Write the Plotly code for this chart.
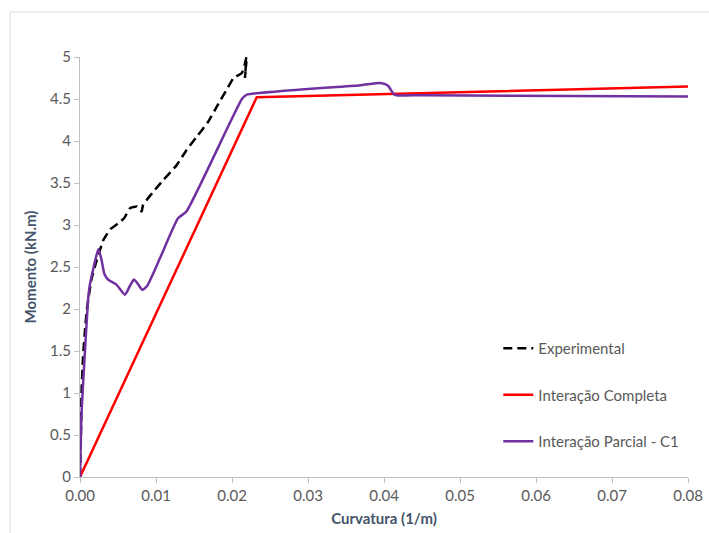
import plotly.graph_objects as go

exp_x = [0.0, 0.00013, 0.0002, 0.0004, 0.00066, 0.0009, 0.0015, 0.0022, 0.00307, 0.004, 0.00504,
         0.0058, 0.00658, 0.0075, 0.0081, 0.0083, 0.0095, 0.011, 0.0127, 0.014, 0.01535, 0.0168,
         0.018, 0.0193, 0.0202, 0.0213, 0.0217, 0.0219, 0.0217, 0.0219]
exp_y = [0.0, 0.52, 1.0, 1.43, 1.75, 1.99, 2.35, 2.58, 2.82, 2.95, 3.02,
         3.08, 3.2, 3.22, 3.16, 3.24, 3.38, 3.54, 3.71, 3.89, 4.05, 4.22,
         4.41, 4.61, 4.75, 4.81, 4.92, 5.0, 4.75, 4.95]

comp_x = [0.0, 0.02325, 0.08]
comp_y = [0.0, 4.52, 4.65]

parc_x = [0.0, 0.0002, 0.00066, 0.0011, 0.0013, 0.0018, 0.0024, 0.0028, 0.0032, 0.0037, 0.0048,
          0.0059, 0.0066, 0.0071, 0.0076, 0.0082, 0.0088, 0.0105, 0.0129, 0.014, 0.0213, 0.0219,
          0.037, 0.0395, 0.0405, 0.0414, 0.045, 0.08]
parc_y = [0.0, 0.76, 1.51, 2.15, 2.29, 2.5, 2.71, 2.6, 2.42, 2.35, 2.29,
          2.17, 2.28, 2.35, 2.3, 2.23, 2.27, 2.6, 3.08, 3.16, 4.5, 4.55,
          4.665, 4.69, 4.66, 4.55, 4.545, 4.53]

x_ticks = [0.0, 0.01, 0.02, 0.03, 0.04, 0.05, 0.06, 0.07, 0.08]
y_ticks = [0, 0.5, 1, 1.5, 2, 2.5, 3, 3.5, 4, 4.5, 5]

fig = go.Figure()
fig.add_trace(go.Scatter(x=exp_x, y=exp_y, mode="lines", name="Experimental", legendgroup="a",
                         line=dict(color="black", width=2.5, dash="9px,5px", shape="spline", smoothing=0.4)))
fig.add_trace(go.Scatter(x=comp_x, y=comp_y, mode="lines", name="Interação Completa", legendgroup="b",
                         line=dict(color="#ff0000", width=2.5)))
fig.add_trace(go.Scatter(x=parc_x, y=parc_y, mode="lines", name="Interação Parcial - C1", legendgroup="c",
                         line=dict(color="#7030a0", width=2.5, shape="spline", smoothing=0.5)))

font = "Lato, Open Sans, sans-serif"
fig.update_layout(
    width=709, height=533,
    margin=dict(l=80, r=21, t=57, b=56),
    plot_bgcolor="white", paper_bgcolor="white",
    font=dict(family=font, size=15, color="#595959"),
    showlegend=True,
    legend=dict(x=0.688, y=0.345, xanchor="left", yanchor="top", traceorder="grouped",
                bgcolor="rgba(0,0,0,0)", font=dict(size=15, color="#595959"),
                tracegroupgap=24),
    xaxis=dict(range=[0, 0.08], tickvals=x_ticks, tickformat=".2f", automargin=False,
               showgrid=False, zeroline=False, showline=True, linecolor="#bfbfbf", linewidth=1,
               ticks="outside", ticklen=5, tickcolor="#bfbfbf",
               title=dict(text="<b>Curvatura (1/m)</b>", font=dict(size=15, color="#44546a"), standoff=10)),
    yaxis=dict(range=[0, 5], tickvals=y_ticks, ticktext=[str(v) for v in y_ticks], automargin=False,
               showgrid=False, zeroline=False, showline=True, linecolor="#bfbfbf", linewidth=1,
               ticks="outside", ticklen=5, tickcolor="#bfbfbf",
               title=dict(text="<b>Momento (kN.m)</b>", font=dict(size=15, color="#44546a"), standoff=9)),
    shapes=[dict(type="rect", xref="paper", yref="paper", x0=-0.115, x1=1.05, y0=-0.16, y1=1.107,
                 line=dict(color="#d9d9d9", width=1), layer="below")],
)
fig.write_html("out.html", config={"displayModeBar": False},
               post_script="document.body.style.margin='0';document.documentElement.style.overflow='hidden';")
